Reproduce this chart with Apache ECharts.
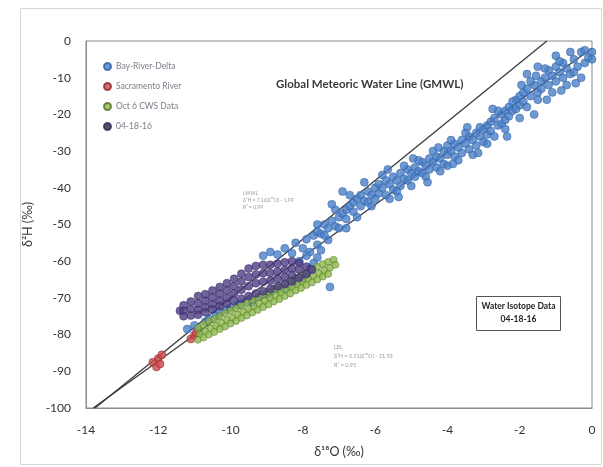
<!DOCTYPE html>
<html>
<head>
<meta charset="utf-8">
<script src="https://cdn.jsdelivr.net/npm/echarts@6/dist/echarts.min.js"></script>
<style>
  html, body { margin: 0; padding: 0; background: #fff; }
  #main { width: 603px; height: 467px; }
</style>
</head>
<body>
<div id="main"></div>
<script>
// 坐标轴刻度
var xTicks = [-14, -12, -10, -8, -6, -4, -2, 0]
var yTicks = [0, -10, -20, -30, -40, -50, -60, -70, -80, -90, -100]

// 趋势线端点
var gmwlLine = [[-13.75, -100], [-1.25, 0]]
var lmwlLine = [[-13.8, -100], [0, -2]]

// Bay-River-Delta
var bayRiverDelta = [
  [-11.2, -78.5], [-11.0, -77.5], [-10.9, -78.8], [-10.7, -76.5], [-10.6, -75.8], [-10.4, -74.8], [-10.3, -73.8],
  [-10.1, -73.2], [-10.0, -72.6], [-9.8, -72], [-9.7, -71.5], [-9.5, -70.8], [-9.4, -71.2], [-9.2, -69.8],
  [-9.0, -69.2], [-8.9, -68.6], [-8.7, -67.8], [-8.5, -67.6], [-8.4, -66.5], [-8.2, -65.5], [-8.0, -64.8],
  [-7.9, -63.5], [-7.8, -62], [-7.7, -60.5], [-7.6, -59],
  [-9.1, -58.5], [-8.9, -57.5], [-8.7, -58.2], [-8.5, -56.5], [-8.3, -57.8], [-8.2, -55], [-8.0, -56.5],
  [-7.9, -54], [-7.8, -57.5], [-7.6, -55.5], [-7.5, -57], [-7.3, -54.2], [-7.25, -67],
  [-7.7, -53], [-7.6, -52], [-7.5, -52.5], [-7.4, -53], [-7.4, -50], [-7.3, -51], [-7.2, -49], [-7.1, -50.5],
  [-7.0, -48], [-7.0, -51], [-6.9, -47], [-6.9, -41], [-6.8, -46], [-6.8, -48.5], [-6.7, -45], [-6.6, -46.5],
  [-6.6, -44], [-6.5, -43], [-6.4, -45], [-6.4, -42], [-6.3, -43.5], [-6.2, -41], [-6.2, -44], [-6.1, -42],
  [-6.0, -40], [-6.0, -43],
  [-5.9, -39], [-5.9, -41.5], [-5.8, -40], [-5.7, -38], [-5.7, -42], [-5.6, -39], [-5.5, -37], [-5.5, -40.5],
  [-5.4, -38], [-5.3, -36], [-5.3, -39.5], [-5.2, -37.5], [-5.1, -35], [-5.1, -38], [-5.0, -36], [-4.9, -34.5],
  [-4.9, -37], [-4.8, -35.5], [-4.7, -33], [-4.7, -36], [-4.6, -34], [-4.5, -32], [-4.5, -35], [-4.4, -33],
  [-4.3, -31.5], [-4.3, -34.5], [-4.2, -32], [-4.1, -30], [-4.1, -33.5], [-4.0, -31], [-4.0, -28.5],
  [-3.9, -30], [-3.8, -28], [-3.8, -31.5], [-3.7, -29], [-3.6, -27], [-3.6, -30.5], [-3.5, -28], [-3.4, -26],
  [-3.4, -29.5], [-3.3, -27], [-3.2, -25], [-3.2, -28.5], [-3.1, -26], [-3.0, -24], [-3.0, -27.5], [-2.9, -23],
  [-2.9, -25.5], [-2.8, -22], [-2.8, -24.5], [-2.7, -21], [-2.6, -23], [-2.5, -20], [-2.5, -22.5], [-2.4, -19],
  [-2.4, -21.5], [-2.3, -18], [-2.3, -20.5], [-2.2, -19], [-2.1, -16], [-2.1, -18.5], [-2.0, -15], [-2.0, -17.5],
  [-1.9, -14], [-1.9, -16.5], [-1.8, -13], [-1.8, -9], [-1.7, -15], [-1.6, -12], [-1.6, -20], [-1.5, -14],
  [-1.5, -7], [-1.4, -11], [-1.4, -13], [-1.3, -10], [-1.2, -12], [-1.2, -8], [-1.1, -9.5], [-1.0, -11],
  [-1.0, -7], [-0.9, -8.5], [-0.8, -10], [-0.8, -6], [-0.7, -7.5], [-0.6, -9], [-0.6, -3], [-0.5, -5],
  [-0.4, -7], [-0.3, -3], [-0.2, -6], [-0.1, -4.5], [0.0, -5], [0.0, -3],
  [-6.3, -38.5], [-6.1, -45], [-5.8, -36.5], [-5.6, -43], [-5.4, -41], [-5.2, -34], [-5.0, -39.5], [-4.8, -32.5],
  [-4.6, -37], [-4.4, -30], [-4.2, -35.5], [-4.0, -34], [-3.9, -27], [-3.7, -32.5], [-3.5, -25], [-3.3, -31],
  [-3.1, -23.5], [-2.9, -28], [-2.7, -26], [-2.6, -19], [-2.4, -24], [-2.2, -16.5], [-2.0, -21], [-1.8, -18],
  [-1.7, -11], [-1.5, -16], [-1.3, -7.5], [-1.1, -14], [-0.9, -5.5], [-0.7, -12], [-0.5, -8.5], [-0.3, -10],
  [-0.2, -2.5], [-1.0, -4],
  [-7.1, -46], [-6.7, -42], [-6.5, -48], [-7.2, -44.5], [-6.8, -51], [-7.6, -50], [-7.9, -58.5], [-8.1, -60],
  [-5.65, -35], [-5.35, -42.5], [-4.95, -32], [-4.55, -38.5], [-4.25, -29], [-3.85, -33.5], [-3.45, -23.5],
  [-3.15, -30.5], [-2.75, -18.5], [-2.35, -26], [-1.95, -12], [-1.55, -9.5], [-1.25, -16], [-0.85, -13.5],
  [-0.45, -11.5]
]

// Sacramento River
var sacramentoRiver = [
  [-12.15, -87.5], [-12.05, -88.8], [-12.0, -86.5], [-11.9, -85.5], [-11.95, -88],
  [-11.1, -81.2], [-11.0, -80.2], [-10.95, -79.5]
]

// Oct 6 CWS Data
var oct6Cws = [
  [-10.9, -78.2], [-10.75, -77.3], [-10.6, -76.4], [-10.45, -75.8], [-10.3, -75], [-10.15, -74.2], [-10.0, -73.5],
  [-9.85, -72.8], [-9.7, -72], [-9.55, -71.2], [-9.4, -70.5], [-9.25, -69.8], [-9.1, -69], [-8.95, -68.3],
  [-8.8, -67.5], [-8.65, -66.8], [-8.5, -66], [-8.35, -65.3], [-8.2, -64.5], [-8.05, -63.8], [-7.9, -63],
  [-7.75, -62.3], [-7.6, -61.5], [-7.45, -60.8], [-7.3, -60.2], [-7.15, -59.6],
  [-10.85, -79.9], [-10.7, -79.1], [-10.55, -78.3], [-10.4, -77.6], [-10.25, -76.8], [-10.1, -76], [-9.95, -75.4],
  [-9.8, -74.5], [-9.65, -73.8], [-9.5, -73], [-9.35, -72.3], [-9.2, -71.5], [-9.05, -70.8], [-8.9, -70],
  [-8.75, -69.3], [-8.6, -68.5], [-8.45, -67.8], [-8.3, -67], [-8.15, -66.3], [-8.0, -65.5], [-7.85, -64.8],
  [-7.7, -64], [-7.55, -63.3], [-7.4, -62.5], [-7.25, -61.8], [-7.1, -61],
  [-10.9, -81.4], [-10.75, -80.8], [-10.6, -80], [-10.45, -79.3], [-10.3, -78.5], [-10.15, -77.8], [-10.0, -77],
  [-9.85, -76.3], [-9.7, -75.5], [-9.55, -74.8], [-9.4, -74], [-9.25, -73.3], [-9.1, -72.5], [-8.95, -71.8],
  [-8.8, -71], [-8.65, -70.3], [-8.5, -69.5], [-8.35, -68.8], [-8.2, -68], [-8.05, -67.3], [-7.9, -66.5],
  [-7.75, -65.8], [-7.6, -65], [-7.45, -64.2], [-7.3, -63.5]
]

// 04-18-16
var apr1816 = [
  [-11.4, -73.5], [-11.3, -72], [-11.3, -73.5], [-11.3, -75],
  [-11.1, -71], [-11.1, -73], [-11.1, -74.8],
  [-10.9, -69.5], [-10.9, -71.5], [-10.9, -73.3], [-10.9, -74.6],
  [-10.7, -69], [-10.7, -70.8], [-10.7, -72.6], [-10.7, -73.9],
  [-10.5, -68], [-10.5, -69.9], [-10.5, -71.8], [-10.5, -73.1],
  [-10.3, -67], [-10.3, -68.9], [-10.3, -70.8], [-10.3, -72.3],
  [-10.1, -66], [-10.1, -68], [-10.1, -70], [-10.1, -71.6],
  [-9.9, -64.8], [-9.9, -66.8], [-9.9, -68.8], [-9.9, -70.8],
  [-9.7, -63.4], [-9.7, -65.5], [-9.7, -67.8], [-9.7, -70.2],
  [-9.5, -62], [-9.5, -64.3], [-9.5, -66.8], [-9.5, -69.5],
  [-9.3, -61.3], [-9.3, -63.6], [-9.3, -66], [-9.3, -68.8],
  [-9.1, -61], [-9.1, -63.3], [-9.1, -65.6], [-9.1, -68.2],
  [-8.9, -61], [-8.9, -63.2], [-8.9, -65.3], [-8.9, -67.5],
  [-8.7, -60.7], [-8.7, -62.8], [-8.7, -64.8], [-8.7, -66.8],
  [-8.5, -60.3], [-8.5, -62.4], [-8.5, -64.3], [-8.5, -66.2],
  [-8.3, -60], [-8.3, -62], [-8.3, -63.8], [-8.3, -65.5],
  [-8.1, -60.5], [-8.1, -62.3], [-8.1, -64.5],
  [-7.9, -61.5], [-7.9, -63.5], [-7.75, -62.3]
]

var fontFam = 'Lato, "Liberation Sans", sans-serif'

var chart = echarts.init(document.getElementById('main'))

var option = {
  backgroundColor: '#fff',
  animation: false,
  grid: {
    left: 86, right: 11, top: 41, bottom: 59,
    show: true, borderColor: '#8a8a8a', borderWidth: 1
  },
  legend: {
    orient: 'vertical', left: 98, top: 57, itemGap: 11,
    icon: 'circle', itemWidth: 7, itemHeight: 7,
    textStyle: { fontSize: 8.5, color: '#7a7f88', fontFamily: fontFam },
    data: [
      { name: 'Bay-River-Delta' },
      { name: 'Sacramento River' },
      { name: 'Oct 6 CWS Data' },
      { name: '04-18-16', itemStyle: { color: '#2b2838' } }
    ]
  },
  xAxis: {
    type: 'value', min: xTicks[0], max: xTicks[xTicks.length - 1], interval: 2,
    name: 'δ¹⁸O (‰)', nameLocation: 'middle', nameGap: 37,
    nameTextStyle: { fontSize: 12.5, color: '#333', fontFamily: fontFam },
    axisLine: { onZero: false, lineStyle: { color: '#8a8a8a' } },
    axisTick: { show: false },
    splitLine: { show: false },
    axisLabel: { fontSize: 12, color: '#333', margin: 16, fontFamily: fontFam }
  },
  yAxis: {
    type: 'value', min: yTicks[yTicks.length - 1], max: yTicks[0], interval: 10,
    name: 'δ²H (‰)', nameLocation: 'middle', nameGap: 45,
    nameTextStyle: { fontSize: 12.5, color: '#333', fontFamily: fontFam },
    axisLine: { show: true, onZero: false, lineStyle: { color: '#8a8a8a' } },
    axisTick: { show: false },
    splitLine: { show: false },
    axisLabel: { fontSize: 12, color: '#333', margin: 15, fontFamily: fontFam }
  },
  series: [
    {
      name: 'GMWL', type: 'line', data: gmwlLine, symbol: 'none', silent: true, z: 1,
      lineStyle: { color: '#3a3a3a', width: 1.3 }
    },
    {
      name: 'LMWL', type: 'line', data: lmwlLine, symbol: 'none', silent: true, z: 1,
      lineStyle: { color: '#3a3a3a', width: 1.3 }
    },
    {
      name: 'Bay-River-Delta', type: 'scatter', data: bayRiverDelta, symbolSize: 8, z: 3,
      itemStyle: { color: '#4a80c8', borderColor: '#2c5a9c', borderWidth: 0.6 }
    },
    {
      name: 'Sacramento River', type: 'scatter', data: sacramentoRiver, symbolSize: 8, z: 3,
      itemStyle: { color: '#cc4a4a', borderColor: '#8c2424', borderWidth: 0.6 }
    },
    {
      name: 'Oct 6 CWS Data', type: 'scatter', data: oct6Cws, symbolSize: 7, z: 3,
      itemStyle: { color: '#8fb84c', borderColor: '#4f6f22', borderWidth: 0.6 }
    },
    {
      name: '04-18-16', type: 'scatter', data: apr1816, symbolSize: 8, z: 4,
      itemStyle: { color: '#4d3d84', borderColor: '#30265c', borderWidth: 0.6 }
    }
  ],
  graphic: [
    {
      type: 'rect', left: 18, top: 6, silent: true,
      shape: { width: 581, height: 456 },
      style: { fill: 'none', stroke: '#d6d6d6', lineWidth: 1 }
    },
    {
      type: 'text', left: 276, top: 78, silent: true,
      style: { text: 'Global Meteoric Water Line (GMWL)', fill: '#3a3a3a',
        font: 'bold 11.5px ' + fontFam }
    },
    {
      type: 'text', left: 243, top: 190, silent: true,
      style: { text: 'LMWL\nδ²H = 7.16(δ¹⁸O) - 1.99\nR² = 0.99', fill: '#9a9a9a',
        font: '5px ' + fontFam, lineHeight: 7 }
    },
    {
      type: 'text', left: 334, top: 343, silent: true,
      style: { text: 'LEL\nδ²H = 5.51(δ¹⁸O) - 21.53\nR² = 0.95', fill: '#9a9a9a',
        font: '5.5px ' + fontFam, lineHeight: 9, align: 'center' }
    },
    {
      type: 'group', left: 476, top: 296, silent: true,
      children: [
        { type: 'rect', shape: { x: 0, y: 0, width: 84, height: 34 },
          style: { fill: '#fff', stroke: '#555', lineWidth: 1 } },
        { type: 'text', style: { x: 42, y: 10, text: 'Water Isotope Data', align: 'center',
          verticalAlign: 'middle', fill: '#222', font: 'bold 8.5px ' + fontFam } },
        { type: 'text', style: { x: 42, y: 23, text: '04-18-16', align: 'center',
          verticalAlign: 'middle', fill: '#222', font: 'bold 8.5px ' + fontFam } }
      ]
    }
  ]
}

chart.setOption(option)

window.addEventListener('resize', function () {
  chart.resize()
})
</script>
</body>
</html>
